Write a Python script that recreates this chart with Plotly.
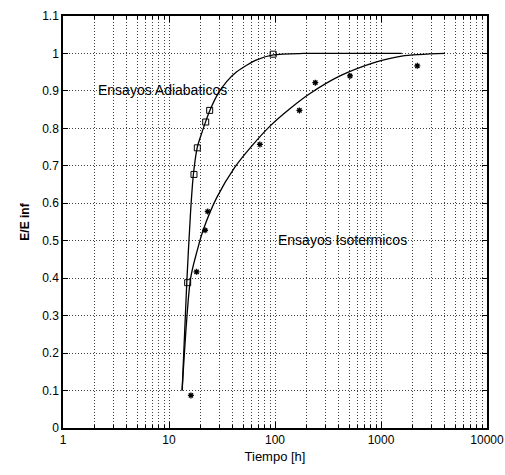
import plotly.graph_objects as go

# Measured points
adiab_t = [15.0, 17.2, 18.5, 22.2, 24.2, 96]
adiab_e = [0.388, 0.677, 0.748, 0.817, 0.848, 0.998]
isot_t = [16.1, 18.2, 21.9, 23.2, 72, 170, 240, 510, 2200]
isot_e = [0.087, 0.417, 0.528, 0.578, 0.757, 0.848, 0.922, 0.940, 0.967]

# Fitted curves
adiab_fit_t = [13.3, 14.7, 16.0, 17.0, 18.5, 20.5, 22.3, 24.4, 29.2, 35, 43.5, 55, 67.2, 96.4, 185, 400, 1570]
adiab_fit_e = [0.10, 0.386, 0.58, 0.678, 0.75, 0.79, 0.82, 0.849, 0.894, 0.925, 0.951, 0.970, 0.983, 0.996, 1.0, 1.0, 1.0]
isot_fit_t = [13.3, 16.0, 18.5, 21.1, 28.2, 42, 60, 89.7, 139, 214, 410, 847, 1567, 4018]
isot_fit_e = [0.10, 0.40, 0.475, 0.53, 0.615, 0.697, 0.752, 0.806, 0.853, 0.893, 0.940, 0.975, 0.993, 1.0]

x_ticks = [1, 10, 100, 1000, 10000]
x_ticklabels = ["1", "10", "100", "1000", "10000"]
y_ticks = [0, 0.1, 0.2, 0.3, 0.4, 0.5, 0.6, 0.7, 0.8, 0.9, 1, 1.1]
y_ticklabels = ["0", "0.1", "0.2", "0.3", "0.4", "0.5", "0.6", "0.7", "0.8", "0.9", "1", "1.1"]
minor_x = [m * 10 ** d for d in range(4) for m in range(2, 10)]

FONT = "Liberation Sans, Arial, sans-serif"
GRID = "rgba(0,0,0,0.75)"

fig = go.Figure()
fig.add_trace(go.Scatter(x=adiab_fit_t, y=adiab_fit_e, mode="lines",
                         line=dict(color="black", width=1.3, shape="spline", smoothing=0.8),
                         showlegend=False))
fig.add_trace(go.Scatter(x=isot_fit_t, y=isot_fit_e, mode="lines",
                         line=dict(color="black", width=1.3, shape="spline", smoothing=0.8),
                         showlegend=False))
fig.add_trace(go.Scatter(x=adiab_t, y=adiab_e, mode="markers",
                         marker=dict(symbol="square-open", size=6, color="black", line=dict(width=1)),
                         showlegend=False))
fig.add_trace(go.Scatter(x=isot_t, y=isot_e, mode="markers",
                         marker=dict(symbol="asterisk-open", size=5, color="black", line=dict(width=1.3)),
                         showlegend=False))

fig.add_annotation(x=0.311, y=0.903, xref="x", yref="y", text="Ensayos Adiabaticos",
                   showarrow=False, xanchor="left", yanchor="middle",
                   font=dict(family=FONT, size=14, color="black"))
fig.add_annotation(x=2.01, y=0.502, xref="x", yref="y", text="Ensayos Isotermicos",
                   showarrow=False, xanchor="left", yanchor="middle",
                   font=dict(family=FONT, size=14, color="black"))

fig.update_layout(
    width=505, height=475,
    margin=dict(l=63, r=18, t=16, b=47),
    paper_bgcolor="white", plot_bgcolor="white",
    font=dict(family=FONT, size=12, color="black"),
    xaxis=dict(type="log", range=[0, 4], tickvals=x_ticks, ticktext=x_ticklabels,
               automargin=False,
               ticks="inside", ticklen=6, tickcolor="black", ticklabeloverflow="allow",
               showgrid=True, gridcolor=GRID, griddash="1px,2px", gridwidth=1,
               minor=dict(tickvals=minor_x, ticks="inside", ticklen=3, tickcolor="black",
                          showgrid=True, gridcolor=GRID, griddash="1px,2px", gridwidth=1),
               showline=True, linecolor="black", linewidth=1.5, mirror="ticks",
               zeroline=False,
               title=dict(text="Tiempo [h]", standoff=6, font=dict(size=13))),
    yaxis=dict(range=[0, 1.1], tickvals=y_ticks, ticktext=y_ticklabels,
               automargin=False,
               ticks="inside", ticklen=5, tickcolor="black",
               showgrid=True, gridcolor=GRID, griddash="1px,2px", gridwidth=1,
               showline=True, linecolor="black", linewidth=1.5, mirror="ticks",
               zeroline=False,
               title=dict(text="<b>E/E inf</b>", standoff=10, font=dict(size=12))),
)

fig.write_html("out.html")
